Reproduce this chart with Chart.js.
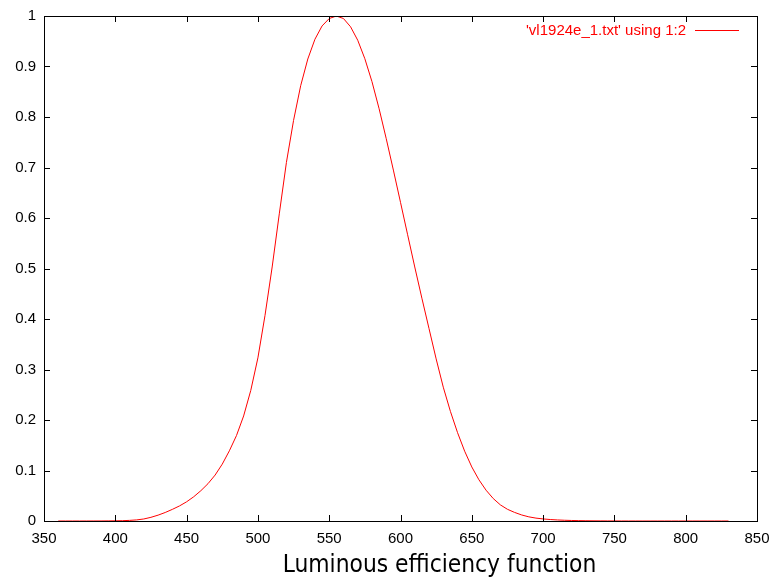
<!DOCTYPE html>
<html lang="en">
<head>
    <meta charset="UTF-8">
    <title>Luminous efficiency function</title>
    <script src="https://cdn.jsdelivr.net/npm/chart.js"></script>
    <style>
        body { margin: 0; background: #fff; }
        canvas { display: block; }
    </style>
</head>
<body>
    <canvas id="vlChart" width="772" height="580"></canvas>

    <script>
        // CIE 1924 photopic V(lambda), read every 5 nm
        const wavelengths = [
            360, 365, 370, 375, 380, 385, 390, 395, 400, 405, 410, 415, 420, 425, 430, 435,
            440, 445, 450, 455, 460, 465, 470, 475, 480, 485, 490, 495, 500, 505, 510, 515,
            520, 525, 530, 535, 540, 545, 550, 555, 560, 565, 570, 575, 580, 585, 590, 595,
            600, 605, 610, 615, 620, 625, 630, 635, 640, 645, 650, 655, 660, 665, 670, 675,
            680, 685, 690, 695, 700, 705, 710, 715, 720, 725, 730, 735, 740, 745, 750, 755,
            760, 765, 770, 775, 780, 785, 790, 795, 800, 805, 810, 815, 820, 825, 830
        ];
        const efficiency = [
            0.000004, 0.000007, 0.000012, 0.000022, 0.000039, 0.000064, 0.00012, 0.000217,
            0.000396, 0.00064, 0.00121, 0.00218, 0.004, 0.0073, 0.0116, 0.01684,
            0.023, 0.0298, 0.038, 0.048, 0.06, 0.0739, 0.09098, 0.1126,
            0.13902, 0.1693, 0.20802, 0.2586, 0.323, 0.4073, 0.503, 0.6082,
            0.71, 0.7932, 0.862, 0.91485, 0.954, 0.9803, 0.99495, 1.0,
            0.995, 0.9786, 0.952, 0.9154, 0.87, 0.8163, 0.757, 0.6949,
            0.631, 0.5668, 0.503, 0.4412, 0.381, 0.321, 0.265, 0.217,
            0.175, 0.1382, 0.107, 0.0816, 0.061, 0.04458, 0.032, 0.0232,
            0.017, 0.01192, 0.00821, 0.005723, 0.004102, 0.002929, 0.002091, 0.001484,
            0.001047, 0.00074, 0.00052, 0.000361, 0.000249, 0.000172, 0.00012, 0.000085,
            0.00006, 0.000042, 0.00003, 0.000021, 0.000015, 0.000011, 0.0000075, 0.0000053,
            0.0000037, 0.0000026, 0.0000018, 0.0000013, 0.0000009, 0.0000007, 0.0000005
        ];
        const xTicks = [350, 400, 450, 500, 550, 600, 650, 700, 750, 800, 850];
        const yTicks = [0, 0.1, 0.2, 0.3, 0.4, 0.5, 0.6, 0.7, 0.8, 0.9, 1];
        const seriesLabel = "'vl1924e_1.txt' using 1:2";
        const axisTitle = 'Luminous efficiency function';

        const tickFont = { family: 'Liberation Sans', size: 15 };

        // gnuplot style box with inward ticks on all four sides, the key and the xlabel
        const gnuplotFrame = {
            id: 'gnuplotFrame',
            afterDraw(chart) {
                const { ctx, chartArea: a, scales } = chart;
                const len = 6;
                ctx.save();
                ctx.strokeStyle = '#000';
                ctx.lineWidth = 1;
                ctx.beginPath();
                xTicks.forEach(v => {
                    const px = Math.round(scales.x.getPixelForValue(v)) + 0.5;
                    ctx.moveTo(px, a.bottom); ctx.lineTo(px, a.bottom - len);
                    ctx.moveTo(px, a.top); ctx.lineTo(px, a.top + len);
                });
                yTicks.forEach(v => {
                    const py = Math.round(scales.y.getPixelForValue(v)) + 0.5;
                    ctx.moveTo(a.left, py); ctx.lineTo(a.left + len, py);
                    ctx.moveTo(a.right, py); ctx.lineTo(a.right - len, py);
                });
                ctx.stroke();
                ctx.strokeRect(Math.round(a.left) + 0.5, Math.round(a.top) + 0.5,
                    Math.round(a.right - a.left), Math.round(a.bottom - a.top));

                // key
                ctx.fillStyle = '#ff0000';
                ctx.strokeStyle = '#ff0000';
                ctx.font = '15px "Liberation Sans"';
                ctx.textAlign = 'right';
                ctx.textBaseline = 'middle';
                ctx.fillText(seriesLabel, a.right - 71, a.top + 15);
                ctx.beginPath();
                ctx.moveTo(a.right - 62, a.top + 14.5);
                ctx.lineTo(a.right - 18, a.top + 14.5);
                ctx.stroke();

                // xlabel (gnuplot puts it a bit right of the plot centre here)
                ctx.fillStyle = '#000';
                ctx.font = '24.3px "DejaVu Sans Condensed", "DejaVu Sans"';
                ctx.textAlign = 'center';
                ctx.fillText(axisTitle, (a.left + a.right) / 2 + 39, 566);
                ctx.restore();
            }
        };

        const ctx = document.getElementById('vlChart').getContext('2d');
        const vlChart = new Chart(ctx, {
            type: 'line',
            data: {
                datasets: [{
                    label: seriesLabel,
                    data: wavelengths.map((w, i) => ({ x: w, y: efficiency[i] })),
                    borderColor: '#ff0000',
                    borderWidth: 1,
                    pointRadius: 0,
                    tension: 0,
                    fill: false
                }]
            },
            options: {
                responsive: false,
                animation: false,
                layout: { padding: { top: 16, right: 15, bottom: 0, left: 0 } },
                plugins: {
                    legend: { display: false },
                    tooltip: { enabled: false }
                },
                scales: {
                    x: {
                        type: 'linear',
                        min: 350,
                        max: 850,
                        afterBuildTicks: s => { s.ticks = xTicks.map(v => ({ value: v })); },
                        afterFit: s => {
                            s.height = 59;
                            s.paddingLeft = 0;
                            s.paddingRight = 0;
                        },
                        grid: { display: false, drawTicks: false },
                        border: { display: false },
                        ticks: { color: '#000', font: tickFont, padding: 9, maxRotation: 0 }
                    },
                    y: {
                        min: 0,
                        max: 1,
                        afterBuildTicks: s => { s.ticks = yTicks.map(v => ({ value: v })); },
                        afterFit: s => {
                            s.width = 44;
                            s.paddingTop = 0;
                            s.paddingBottom = 0;
                        },
                        grid: { display: false, drawTicks: false },
                        border: { display: false },
                        ticks: {
                            color: '#000',
                            font: tickFont,
                            padding: 8,
                            callback: v => String(+v.toFixed(1))
                        }
                    }
                }
            },
            plugins: [gnuplotFrame]
        });
    </script>
</body>
</html>
